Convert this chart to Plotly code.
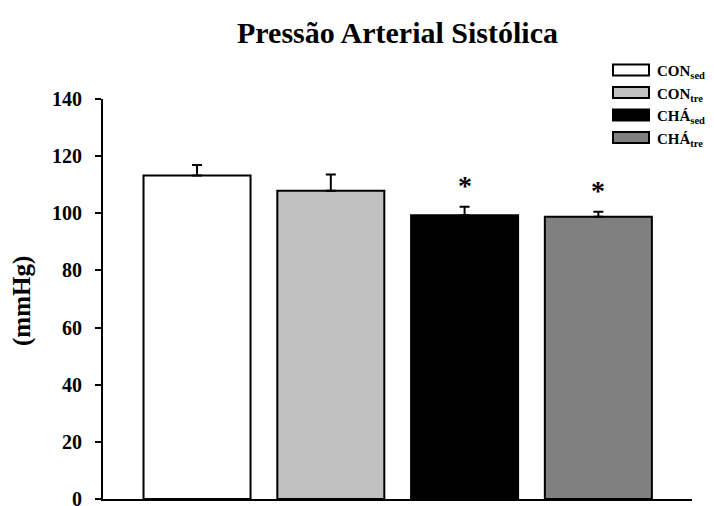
import plotly.graph_objects as go

groups = ["CON<sub>sed</sub>", "CON<sub>tre</sub>", "CHÁ<sub>sed</sub>", "CHÁ<sub>tre</sub>"]
means = [113.2, 107.9, 99.3, 98.8]
sems = [3.7, 5.7, 3.0, 1.7]
significant = [False, False, True, True]
colors = ["#ffffff", "#c0c0c0", "#000000", "#808080"]
y_ticks = [0, 20, 40, 60, 80, 100, 120, 140]

FONT = "Liberation Serif"
positions = list(range(len(groups)))

fig = go.Figure()
for i, g in enumerate(groups):
    fig.add_trace(go.Bar(
        x=[positions[i]], y=[means[i]], width=0.8,
        marker=dict(color=colors[i], line=dict(color="black", width=2)),
        error_y=dict(type="data", symmetric=False, array=[sems[i]], arrayminus=[0],
                     color="black", thickness=2, width=5),
        showlegend=False, name=g,
    ))

# significance markers
for i in positions:
    if significant[i]:
        fig.add_annotation(x=positions[i], y=means[i] + sems[i], xref="x", yref="y",
                           text="<b>*</b>", showarrow=False, yanchor="bottom", yshift=4,
                           font=dict(family=FONT, size=28, color="black"))

# custom legend (rectangular swatches)
offsets = [29, 6.5, -16, -38.5]
for i, g in enumerate(groups):
    oy = offsets[i]
    fig.add_shape(type="rect", xref="paper", yref="paper", xsizemode="pixel", ysizemode="pixel",
                  xanchor=1, yanchor=1, x0=-79, x1=-43, y0=oy - 5.5, y1=oy + 5.5,
                  fillcolor=colors[i], line=dict(color="black", width=2))
    fig.add_annotation(xref="paper", yref="paper", x=1, y=1, xshift=-37, yshift=oy - 2,
                       xanchor="left", yanchor="middle", showarrow=False,
                       text="<b>" + g + "</b>", font=dict(family=FONT, size=15, color="black"))

# y-axis title
fig.add_annotation(xref="paper", yref="paper", x=(22 - 103) / 589, y=(499 - 301) / 400,
                   xanchor="center", yanchor="middle", textangle=-90, showarrow=False,
                   text="<b>(mmHg)</b>", font=dict(family=FONT, size=25, color="black"))

fig.update_layout(
    width=706, height=498,
    margin=dict(l=95, r=22, t=91, b=7),
    paper_bgcolor="white", plot_bgcolor="white",
    title=dict(text="<b>Pressão Arterial Sistólica</b>", x=0.5, xref="paper",
               y=1 - 24 / 498, yanchor="middle",
               font=dict(family=FONT, size=30, color="black")),
    bargap=0.2,
    xaxis=dict(range=[-0.703, 3.70], showticklabels=False, ticks="", showgrid=False,
               zeroline=False, showline=True, linecolor="black", linewidth=2, automargin=False),
    yaxis=dict(range=[0, 140], tickvals=y_ticks, ticktext=[str(v) for v in y_ticks],
               ticks="outside", ticklen=6, tickwidth=2, tickcolor="black",
               showgrid=False, zeroline=False, showline=True, linecolor="black", linewidth=2,
               ticklabelstandoff=9, ticklabeloverflow="allow", automargin=False,
               tickfont=dict(family=FONT, size=20, color="black", weight="bold")),
)

fig.write_html("out.html")
